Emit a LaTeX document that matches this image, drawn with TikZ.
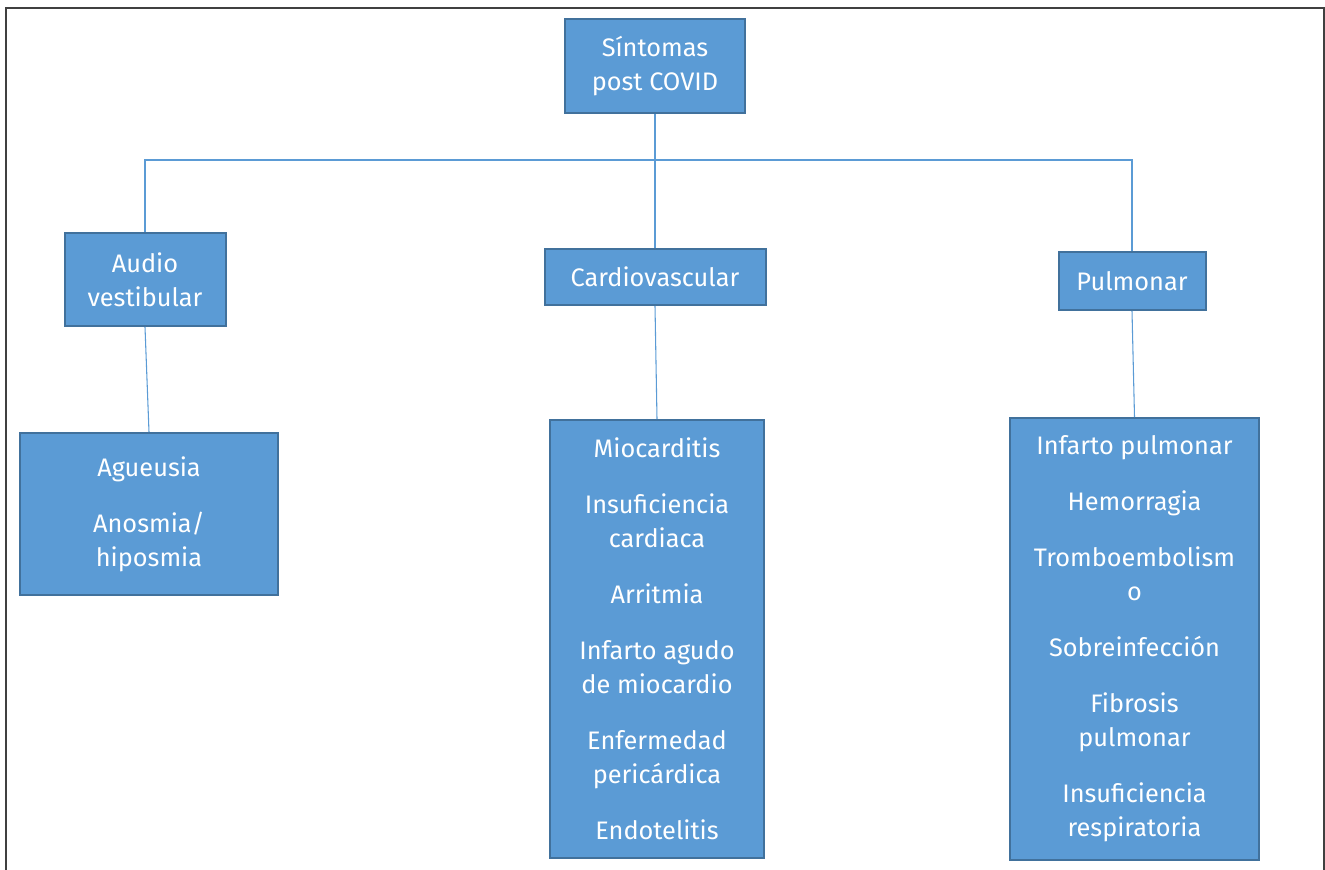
\documentclass[tikz,border=0pt]{standalone}
\usepackage{fontspec}
\setmainfont{Fira Sans}
\usepackage{xcolor}
\definecolor{boxblue}{HTML}{5B9BD5}
\definecolor{boxedge}{HTML}{41719C}
\definecolor{framegray}{HTML}{404040}

\tikzset{
  box/.style={draw=boxedge, fill=boxblue, line width=1.5pt, text=white,
    align=center, inner sep=0pt, font=\fontsize{19}{25.5}\selectfont},
  link/.style={draw=boxblue, line width=0.8pt}
}
\newcommand{\itemgap}{\\[16.5pt]}

\begin{document}
\begin{tikzpicture}[x=0.75pt, y=-0.75pt]

\useasboundingbox (0,0) rectangle (1325,870);
% frame:
\draw[framegray, line width=1.5pt] (6,870) -- (6,8) -- (1324,8) -- (1324,870);

% 1st tier:
\node[box, minimum width=135pt, minimum height=70.5pt] (top) at (655,66) {Síntomas\\post COVID};

% 2nd tier:
\node[box, minimum width=120.75pt, minimum height=69.75pt] (audio) at (145,279.5) {Audio\\vestibular};
\node[box, minimum width=165.75pt, minimum height=42pt] (cardio) at (655,277) {Cardiovascular};
\node[box, minimum width=110.25pt, minimum height=43.5pt] (pulm) at (1132,281) {Pulmonar};

\draw[link] (top.south) -- (cardio.north);
\draw[link] (audio.north) -- ++(0,-72) -| (pulm.north);

% 3rd tier:
\node[box, minimum width=193.5pt, minimum height=121.5pt] (agList) at (149,514)
  {Agueusia\itemgap Anosmia/\\hiposmia};
\node[box, minimum width=160.5pt, minimum height=328.5pt] (cardioList) at (657,639)
  {Miocarditis\itemgap Insuficiencia\\cardiaca\itemgap Arritmia\itemgap
   Infarto agudo\\de miocardio\itemgap Enfermedad\\pericárdica\itemgap Endotelitis};
\node[box, minimum width=186.75pt, minimum height=331.5pt] (pulmList) at (1134.5,639)
  {Infarto pulmonar\itemgap Hemorragia\itemgap Tromboembolism\\o\itemgap
   Sobreinfección\itemgap Fibrosis\\pulmonar\itemgap Insuficiencia\\respiratoria};

\draw[link] (audio.south) -- (agList.north);
\draw[link] (cardio.south) -- (cardioList.north);
\draw[link] (pulm.south) -- (pulmList.north);

\end{tikzpicture}
\end{document}
